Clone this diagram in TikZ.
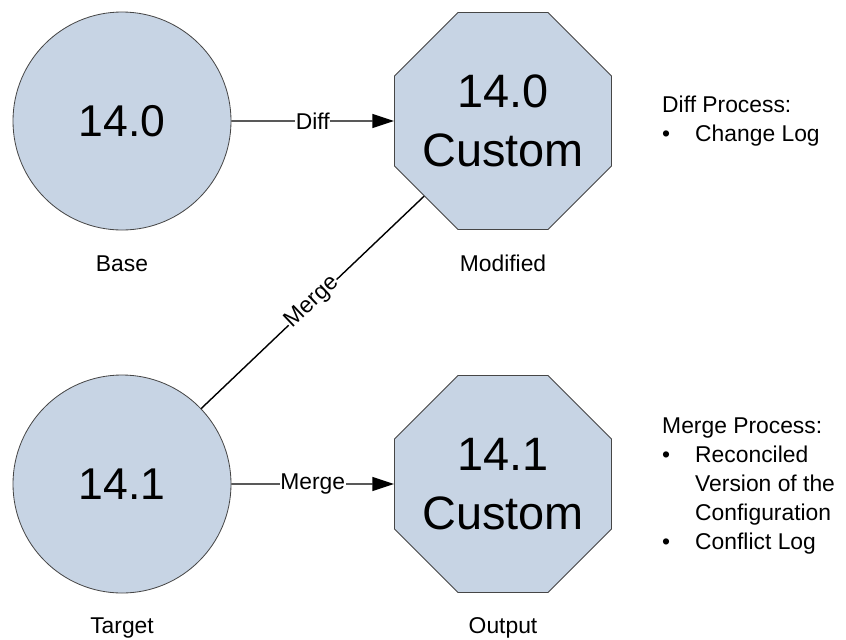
\documentclass[tikz,border=0pt]{standalone}
\usepackage{fontspec}
\setmainfont{Liberation Sans}
\usepackage{tikz}
\usetikzlibrary{positioning,shapes.geometric,arrows.meta}
\definecolor{verfill}{RGB}{199,212,228}
\definecolor{verline}{RGB}{70,70,70}

\tikzset{
  vercircle/.style={circle, draw=verline, fill=verfill, line width=0.7pt,
        minimum size=6.54cm, inner sep=0pt, font=\fontsize{38}{44}\selectfont},
  veroct/.style={regular polygon, regular polygon sides=8, draw=verline, fill=verfill,
        line width=0.7pt, minimum size=7.05cm, inner sep=-1cm, align=center,
        font=\fontsize{40}{50}\selectfont},
  caption/.style={inner sep=0pt, font=\fontsize{19.5}{24}\selectfont},
  flow/.style={line width=1.2pt, -{Triangle[length=6.5mm,width=4.2mm]}},
  flowlbl/.style={fill=white, inner sep=0.5pt, font=\fontsize{19.5}{24}\selectfont},
  notes/.style={anchor=north west, inner sep=0pt, align=left,
        font=\fontsize{19.5}{24.7}\selectfont}
}
\newcommand{\notebullet}{\makebox[0.99cm][l]{\textbullet}}
\newcommand{\noteindent}{\hspace*{0.99cm}}

\begin{document}
\begin{tikzpicture}[x=0.03cm, y=-0.03cm]
  \useasboundingbox (0,0) rectangle (846,639);
  % versions
  \node[vercircle] (base) at (122,121) {14.0};
  \node[veroct] (modified) at (503,121) {14.0\\Custom};
  \node[vercircle] (target) at (122,484) {14.1};
  \node[veroct] (output) at (503,484) {14.1\\Custom};
  \node[caption, below=0.75cm of base] (baselbl) {Base};
  \node[caption, below=0.75cm of modified] (modifiedlbl) {Modified};
  \node[caption, below=0.72cm of target] (targetlbl) {Target};
  \node[caption, below=0.72cm of output] (outputlbl) {Output};
  % processes
  \draw[flow] (base) -- node[flowlbl] {Diff} (modified);
  \draw[flow] (target) -- node[flowlbl] {Merge} (output);
  \draw[line width=1.2pt] (modified) -- node[flowlbl, sloped] {Merge} (target);
  % notes
  \node[notes] (diffnote) at (662,96)
    {Diff Process:\\\notebullet Change Log};
  \node[notes] (mergenote) at (662,418)
    {Merge Process:\\\notebullet Reconciled\\\noteindent Version of the\\
     \noteindent Configuration\\\notebullet Conflict Log};
\end{tikzpicture}
\end{document}
